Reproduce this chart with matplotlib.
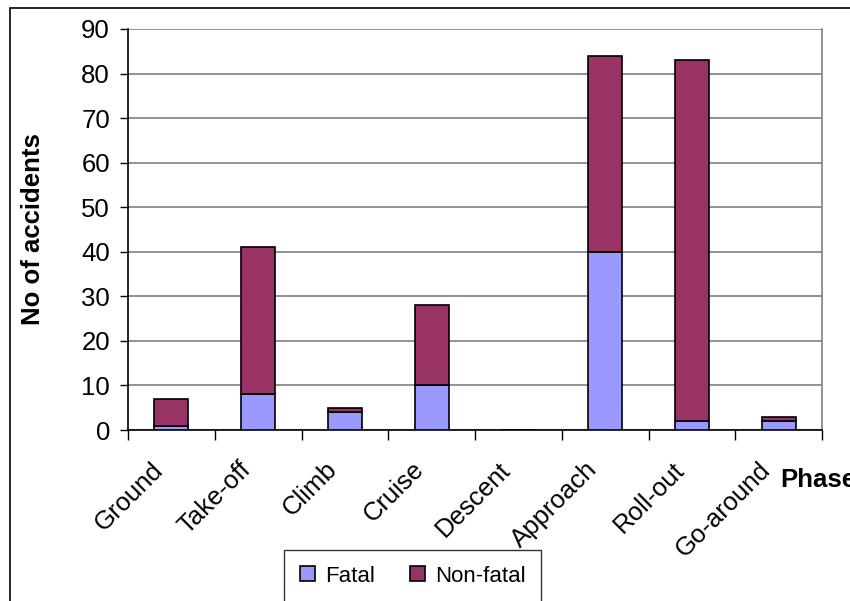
import matplotlib
matplotlib.use("Agg")
import matplotlib.pyplot as plt
from matplotlib.patches import Rectangle
from matplotlib.transforms import ScaledTranslation
import numpy as np

phases = ["Ground", "Take-off", "Climb", "Cruise", "Descent", "Approach", "Roll-out", "Go-around"]
fatal = [1, 8, 4, 10, 0, 40, 2, 2]
non_fatal = [6, 33, 1, 18, 0, 44, 81, 1]
y_ticks = [0, 10, 20, 30, 40, 50, 60, 70, 80, 90]

plt.rcParams["font.family"] = ["Liberation Sans", "DejaVu Sans"]
FS = 18.5

fig = plt.figure(figsize=(8.5, 6.01), dpi=100)
ax = fig.add_axes([128 / 850, 1 - 430 / 601, (822 - 128) / 850, (430 - 29) / 601])

x = np.arange(len(phases))
w = 0.39
ax.bar(x, fatal, w, color="#9999FF", edgecolor="black", linewidth=1.2, label="Fatal", zorder=3)
ax.bar(x, non_fatal, w, bottom=fatal, color="#993366", edgecolor="black", linewidth=1.2,
       label="Non-fatal", zorder=3)

ax.set_xlim(-0.5, len(phases) - 0.5)
ax.set_ylim(0, 90)
ax.set_yticks(y_ticks)
ax.tick_params(axis="y", labelsize=FS, length=6, width=1, direction="out", pad=7)
ax.yaxis.grid(True, color="#808080", linewidth=1.2, zorder=0)
ax.set_axisbelow(True)

# category boundaries carry the x tick marks
ax.set_xticks(np.arange(len(phases) + 1) - 0.5)
ax.set_xticklabels([])
ax.tick_params(axis="x", length=7, width=1, direction="out")
ax.set_xticks(x, minor=True)
ax.set_xticklabels(phases, minor=True, rotation=45, ha="right", va="top",
                   rotation_mode="anchor", fontsize=FS)
ax.tick_params(axis="x", which="minor", length=0, pad=14)
shift = ScaledTranslation(-0.20, -0.08, fig.dpi_scale_trans)
for lbl in ax.get_xticklabels(minor=True):
    lbl.set_transform(lbl.get_transform() + shift)

ax.spines["top"].set_visible(False)
ax.spines["right"].set_color("#808080")
ax.spines["right"].set_linewidth(1.2)
ax.spines["left"].set_linewidth(1.2)
ax.spines["bottom"].set_linewidth(1.2)

ax.set_ylabel("No of accidents", fontsize=FS, fontweight="bold")
ax.yaxis.set_label_coords((45 - 128) / 694, 0.5)
fig.text(780 / 850, 1 - 480 / 601, "Phase", fontsize=FS, fontweight="bold",
         ha="left", va="center")

leg = ax.legend(loc="upper left", bbox_to_anchor=((284 - 128) / 694, -(550 - 430) / 401),
                ncol=2, frameon=True, fancybox=False, fontsize=16, handlelength=0.68,
                handleheight=0.68, handletextpad=0.45, columnspacing=1.6, borderpad=0.7,
                borderaxespad=0)
leg.get_frame().set_edgecolor("black")
leg.get_frame().set_linewidth(1)

# outer chart frame
fig.patches.append(Rectangle((10 / 850, -0.05), 1.0, 1 - 8 / 601 + 0.05, transform=fig.transFigure,
                             fill=False, edgecolor="black", linewidth=1.2))

fig.savefig("out.png", dpi=100)
